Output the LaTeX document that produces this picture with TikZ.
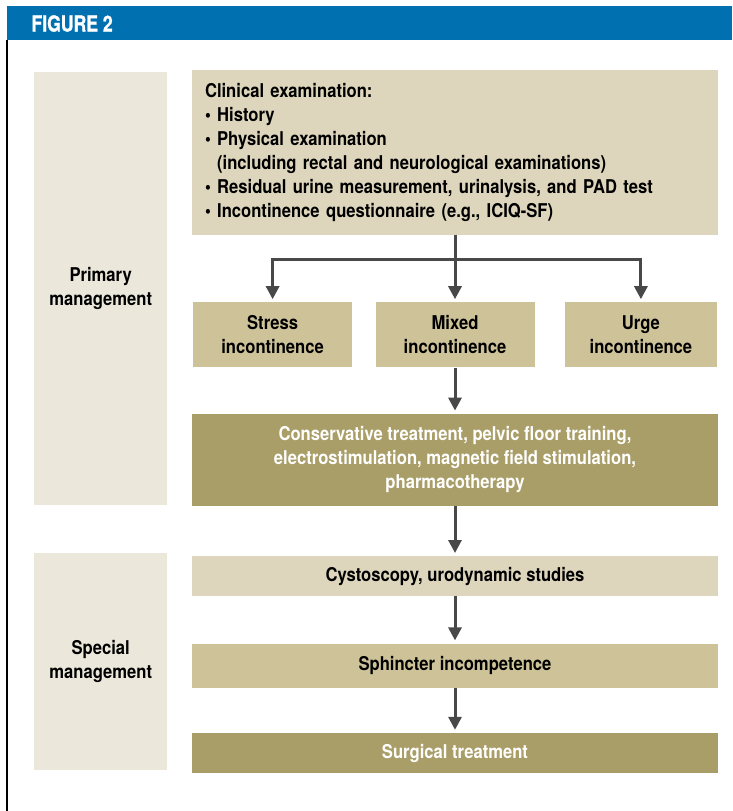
\documentclass[tikz,border=0pt]{standalone}
\usepackage{fontspec}
\setmainfont{TeX Gyre Heros}
\newfontfamily\condfont[FakeStretch=0.875]{TeX Gyre Heros}
\newfontfamily\headfont[FakeStretch=0.8, FakeBold=1.2]{TeX Gyre Heros}
\usetikzlibrary{positioning, arrows.meta}

\definecolor{figblue}{RGB}{0,112,176}
\definecolor{panelbg}{RGB}{235,231,219}
\definecolor{lighttan}{RGB}{221,214,188}
\definecolor{midtan}{RGB}{206,195,152}
\definecolor{darktan}{RGB}{170,158,104}
\definecolor{arrowgray}{RGB}{72,72,72}

\begin{document}
\begin{tikzpicture}[x=1pt, y=-1pt, node distance={20pt},
    every node/.style={font=\condfont\bfseries\fontsize{19}{24}\selectfont}]
    \tikzstyle{box} = [rectangle, inner sep=0pt, align=center, minimum width=526pt]
    \tikzstyle{panel} = [rectangle, fill=panelbg, inner sep=0pt, align=center, minimum width=133pt]
    \tikzstyle{small} = [rectangle, fill=midtan, inner sep=0pt, align=center, minimum height=65pt]
    \tikzstyle{arr} = [draw=arrowgray, line width=3pt, -{Triangle[length=13pt, width=13pt]}, shorten >=3pt]
    \useasboundingbox (0,0) rectangle (732,811);
    % header bar and frame
    \fill[figblue] (7,6) rectangle (732,40);
    \node[anchor=west, text=white, font=\headfont\bfseries\fontsize{22}{24}\selectfont] (head) at (28,23.5) {FIGURE 2};
    \draw[line width=1.5pt] (7,40) -- (7,811);
    % side panels
    \node[panel, anchor=north west, minimum height=433pt] (primary) at (34,72) {Primary\\management};
    \node[panel, anchor=north west, minimum height=217pt] (special) at (34,553) {Special\\management};
    % flow
    \node[box, fill=lighttan, minimum height=165pt, text width=500pt, align=left, inner xsep=13pt] (clin) at (455,152) {Clinical examination:\\
        \textbullet{} History\\
        \textbullet{} Physical examination\\
        \phantom{\textbullet{} }(including rectal and neurological examinations)\\
        \textbullet{} Residual urine measurement, urinalysis, and PAD test\\
        \textbullet{} Incontinence questionnaire (e.g., ICIQ-SF)};
    \node[small, minimum width=159pt] (mixed) [below=67.5pt of clin] {Mixed\\incontinence};
    \node[small, minimum width=159pt] (stress) [left=23pt of mixed] {Stress\\incontinence};
    \node[small, minimum width=152pt] (urge) [right=30pt of mixed] {Urge\\incontinence};
    \node[box, fill=darktan, text=white, minimum height=92pt] (cons) [below=46pt of mixed] {Conservative treatment, pelvic floor training,\\electrostimulation, magnetic field stimulation,\\pharmacotherapy};
    \node[box, fill=lighttan, minimum height=40pt] (cysto) [below=50pt of cons] {Cystoscopy, urodynamic studies};
    \node[box, fill=midtan, minimum height=44pt] (sphinc) [below=47pt of cysto] {Sphincter incompetence};
    \node[box, fill=darktan, text=white, minimum height=40pt] (surg) [below=45pt of sphinc] {Surgical treatment};
    \coordinate (fork) at ([yshift=-25pt]clin.south);
    \draw[draw=arrowgray, line width=3pt] (clin.south) -- (fork);
    \draw[arr] (fork) -| (stress.north);
    \draw[arr] (fork) -| (urge.north);
    \draw[arr] (fork) -- (mixed.north);
    \draw[arr] (mixed) -- (cons);
    \draw[arr] (cons) -- (cysto);
    \draw[arr] (cysto) -- (sphinc);
    \draw[arr] (sphinc) -- (surg);
\end{tikzpicture}
\end{document}
